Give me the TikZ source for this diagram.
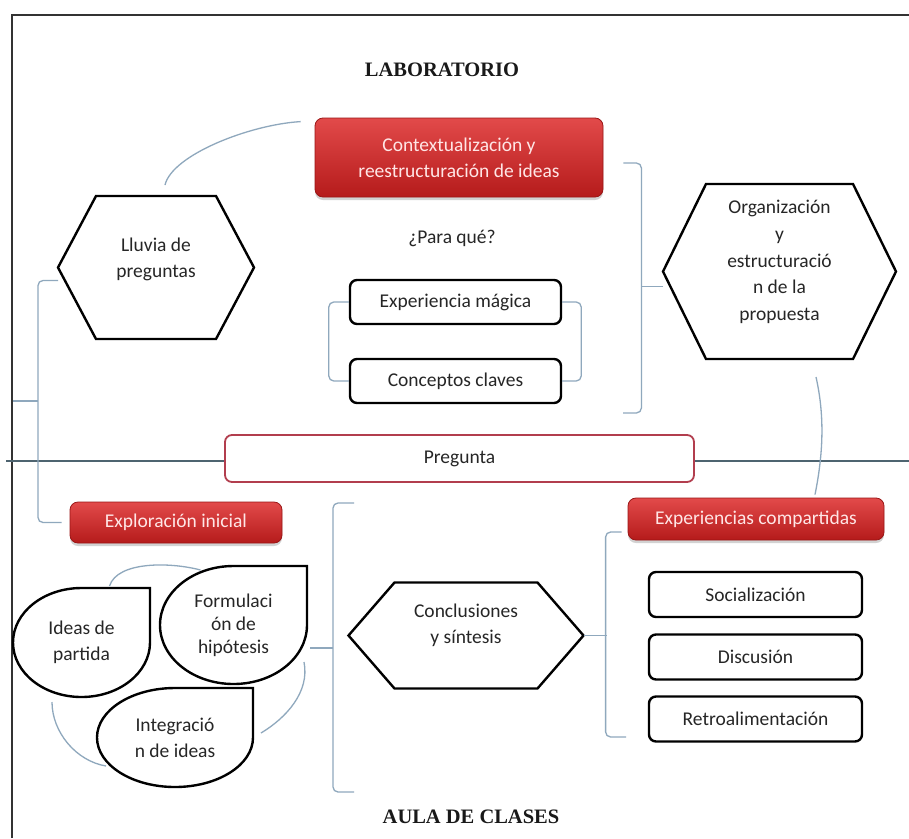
\documentclass[tikz,border=0pt]{standalone}
\usepackage{fontspec}
\setmainfont{Carlito}
\newfontfamily\titulofont{Liberation Serif}
\usetikzlibrary{calc,shadows}

\definecolor{enlacegris}{HTML}{8FA8BD}
\definecolor{divisorgris}{HTML}{4E6470}
\definecolor{rojoclaro}{HTML}{E24A4A}
\definecolor{rojooscuro}{HTML}{B51B1B}
\definecolor{rojoborde}{HTML}{9A1616}
\definecolor{textorojo}{HTML}{FFE6E6}
\definecolor{preguntaborde}{HTML}{B23E4E}

\tikzset{
  texto/.style={font=\fontsize{19.5}{26}\selectfont, text=black!85, align=center},
  rojo/.style={texto, text=textorojo, rounded corners=8pt, draw=rojoborde, line width=0.8pt,
    top color=rojoclaro, bottom color=rojooscuro, inner sep=0pt,
    drop shadow={opacity=0.35, shadow xshift=0pt, shadow yshift=-3pt}},
  caja/.style={texto, rounded corners=7pt, draw=black, line width=2.4pt, inner sep=0pt,
    minimum width=211pt, minimum height=44pt},
  gota/.style={texto, inner sep=0pt, outer sep=0pt},
  borde/.style={draw=black, line width=2.4pt, line join=miter},
  enlace/.style={draw=enlacegris, line width=1.3pt, rounded corners=5pt},
  divisor/.style={draw=divisorgris, line width=1.4pt},
  marco/.style={draw=black!80, line width=1.8pt},
  titulo/.style={font={\titulofont\bfseries\fontsize{20.5}{24}\selectfont}, text=black!90}
}

% hexagon round a text node: node, half width, half height, inset, drop of the outline
\newcommand{\hexagono}[5]{%
  \draw[borde] ($(#1)+(-#2,#5)$) coordinate (#1-w)
    -- ($(#1)+(-#2+#4,#5-#3)$) -- ($(#1)+(#2-#4,#5-#3)$)
    -- ($(#1)+(#2,#5)$) coordinate (#1-e)
    -- ($(#1)+(#2-#4,#5+#3)$) -- ($(#1)+(-#2+#4,#5+#3)$) -- cycle;
  \coordinate (#1-n) at ($(#1)+(0,#5-#3)$);
  \coordinate (#1-s) at ($(#1)+(0,#5+#3)$);}

% drop with its corner at the top right
\newcommand{\gotaforma}[1]{%
  \draw[borde] let \p1=($(#1.north east)-(#1.center)$) in
    (#1.north) -- (#1.north east) -- (#1.east)
    arc[start angle=0, end angle=-270, x radius=\x1, y radius=\y1] -- cycle;}

\begin{document}
\begin{tikzpicture}[x=1pt, y=-1pt]
    \fill[white] (0,0) rectangle (909,838);
    \useasboundingbox (0,0) rectangle (909,838);

    % Frame
    \draw[marco] (12,838) -- (12,15) -- (909,15);

    % Upper half: laboratorio
    \node[titulo] (lab) at (442,70) {LABORATORIO};
    \node[rojo, minimum width=288pt, minimum height=79pt] (ctx) at (459,157.5)
        {Contextualización y\\reestructuración de ideas};
    \node[texto] (paraque) at (452,238) {¿Para qué?};
    \node[caja] (magica) at (455.5,302) {Experiencia mágica};
    \node[caja] (claves) at (455.5,381) {Conceptos claves};

    \node[texto] (lluvia) at (156,259) {Lluvia de\\preguntas};
    \hexagono{lluvia}{98}{71.5}{38}{8.5}
    \node[texto, font=\fontsize{19.5}{26.75}\selectfont] (organ) at (779.5,262)
        {Organización\\y\\estructuració\\n de la\\propuesta};
    \hexagono{organ}{116.5}{87.5}{43}{9.5}

    % Dividing line and question
    \coordinate (divl) at (6,461);
    \coordinate (divr) at (909,461);
    \node[texto, draw=preguntaborde, line width=1.8pt, rounded corners=7pt, fill=white,
        minimum width=469pt, minimum height=47pt, inner sep=0pt] (pregunta) at (459.5,458.5) {Pregunta};
    \draw[divisor] (divl) -- (divl -| pregunta.west);
    \draw[divisor] (divr -| pregunta.east) -- (divr);

    % Lower half: aula de clases
    \node[rojo, minimum width=212pt, minimum height=41pt] (explo) at (176,522.5) {Exploración inicial};
    \node[rojo, minimum width=256pt, minimum height=42pt] (expc) at (756,519) {Experiencias compartidas};

    \node[gota, minimum width=137pt, minimum height=109pt] (ideas) at (81.5,642.5) {Ideas de\\partida};
    \node[gota, minimum width=147pt, minimum height=118pt, font=\fontsize{19.5}{23}\selectfont]
        (formul) at (233.5,625) {Formulaci\\ón de\\hipótesis};
    \node[gota, minimum width=156pt, minimum height=99pt] (integ) at (175,737.5) {Integració\\n de ideas};
    \gotaforma{ideas}
    \gotaforma{formul}
    \gotaforma{integ}

    \node[texto] (concl) at (466,625) {Conclusiones\\y síntesis};
    \hexagono{concl}{117.5}{53}{46}{10.5}

    \foreach \nombre/\etiqueta/\y in {social/Socialización/594.5, discus/Discusión/657, retro/Retroalimentación/719}
        \node[caja, minimum width=213pt, minimum height=45pt] (\nombre) at (755.5,\y) {\etiqueta};

    \node[titulo] (aula) at (471,817) {AULA DE CLASES};

    % Connectors
    \coordinate (llave1b) at (623,413);
    \coordinate (llave2m) at (13,401);
    \coordinate (llave3a) at (354,503);
    \coordinate (llave3b) at (354,792);
    \coordinate (llave4b) at (626,737);

    \draw[enlace] ([xshift=9pt,yshift=11pt]lluvia-n) .. controls +(7,-30) and +(-51,3) .. ([xshift=-14pt,yshift=-4pt]ctx.north west);
    \draw[enlace] (magica.west) -- ++(-20,0) |- (claves.west);
    \draw[enlace] (magica.east) -- ++(19,0) |- (claves.east);
    \draw[enlace] ([xshift=20pt,yshift=-5.5pt]ctx.east) -- ++(18,0) |- (llave1b);
    \draw[enlace] ([yshift=-15pt]organ-w) -- ++(-22,0);
    \draw[enlace] ([xshift=36.5pt,yshift=-18pt]organ-s) .. controls +(9,40) and +(8,-40) .. ([xshift=59pt,yshift=3pt]expc.north);

    \draw[enlace] ([yshift=-13pt]lluvia-w) -- ++(-20,0) |- ([xshift=-8pt]explo.west);
    \draw[enlace] (llave2m) -- ++(25,0);

    \draw[enlace] ([xshift=28pt,yshift=2pt]ideas.north) .. controls +(8,-25) and +(-30,-8) .. ([xshift=-33pt,yshift=-4pt]formul.north);
    \draw[enlace] ([xshift=-29.5pt,yshift=-5pt]ideas.south) .. controls +(0,30) and +(-30,-5) .. ([xshift=9pt,yshift=-28.5pt]integ.west);
    \draw[enlace] ([xshift=-3pt,yshift=-37pt]formul.east) .. controls +(6,30) and +(25,-15) .. ([xshift=8pt,yshift=4.5pt]integ.east);

    \draw[enlace] (llave3a) -- ++(-21,0) |- (llave3b);
    \draw[enlace] ([xshift=3pt,yshift=-23pt]formul.east) -- ++(23,0);
    \draw[enlace] ([xshift=-6pt,yshift=-13pt]expc.west) -- ++(-16,0) |- (llave4b);
    \draw[enlace] (concl-e) -- ++(23,0);
\end{tikzpicture}
\end{document}
